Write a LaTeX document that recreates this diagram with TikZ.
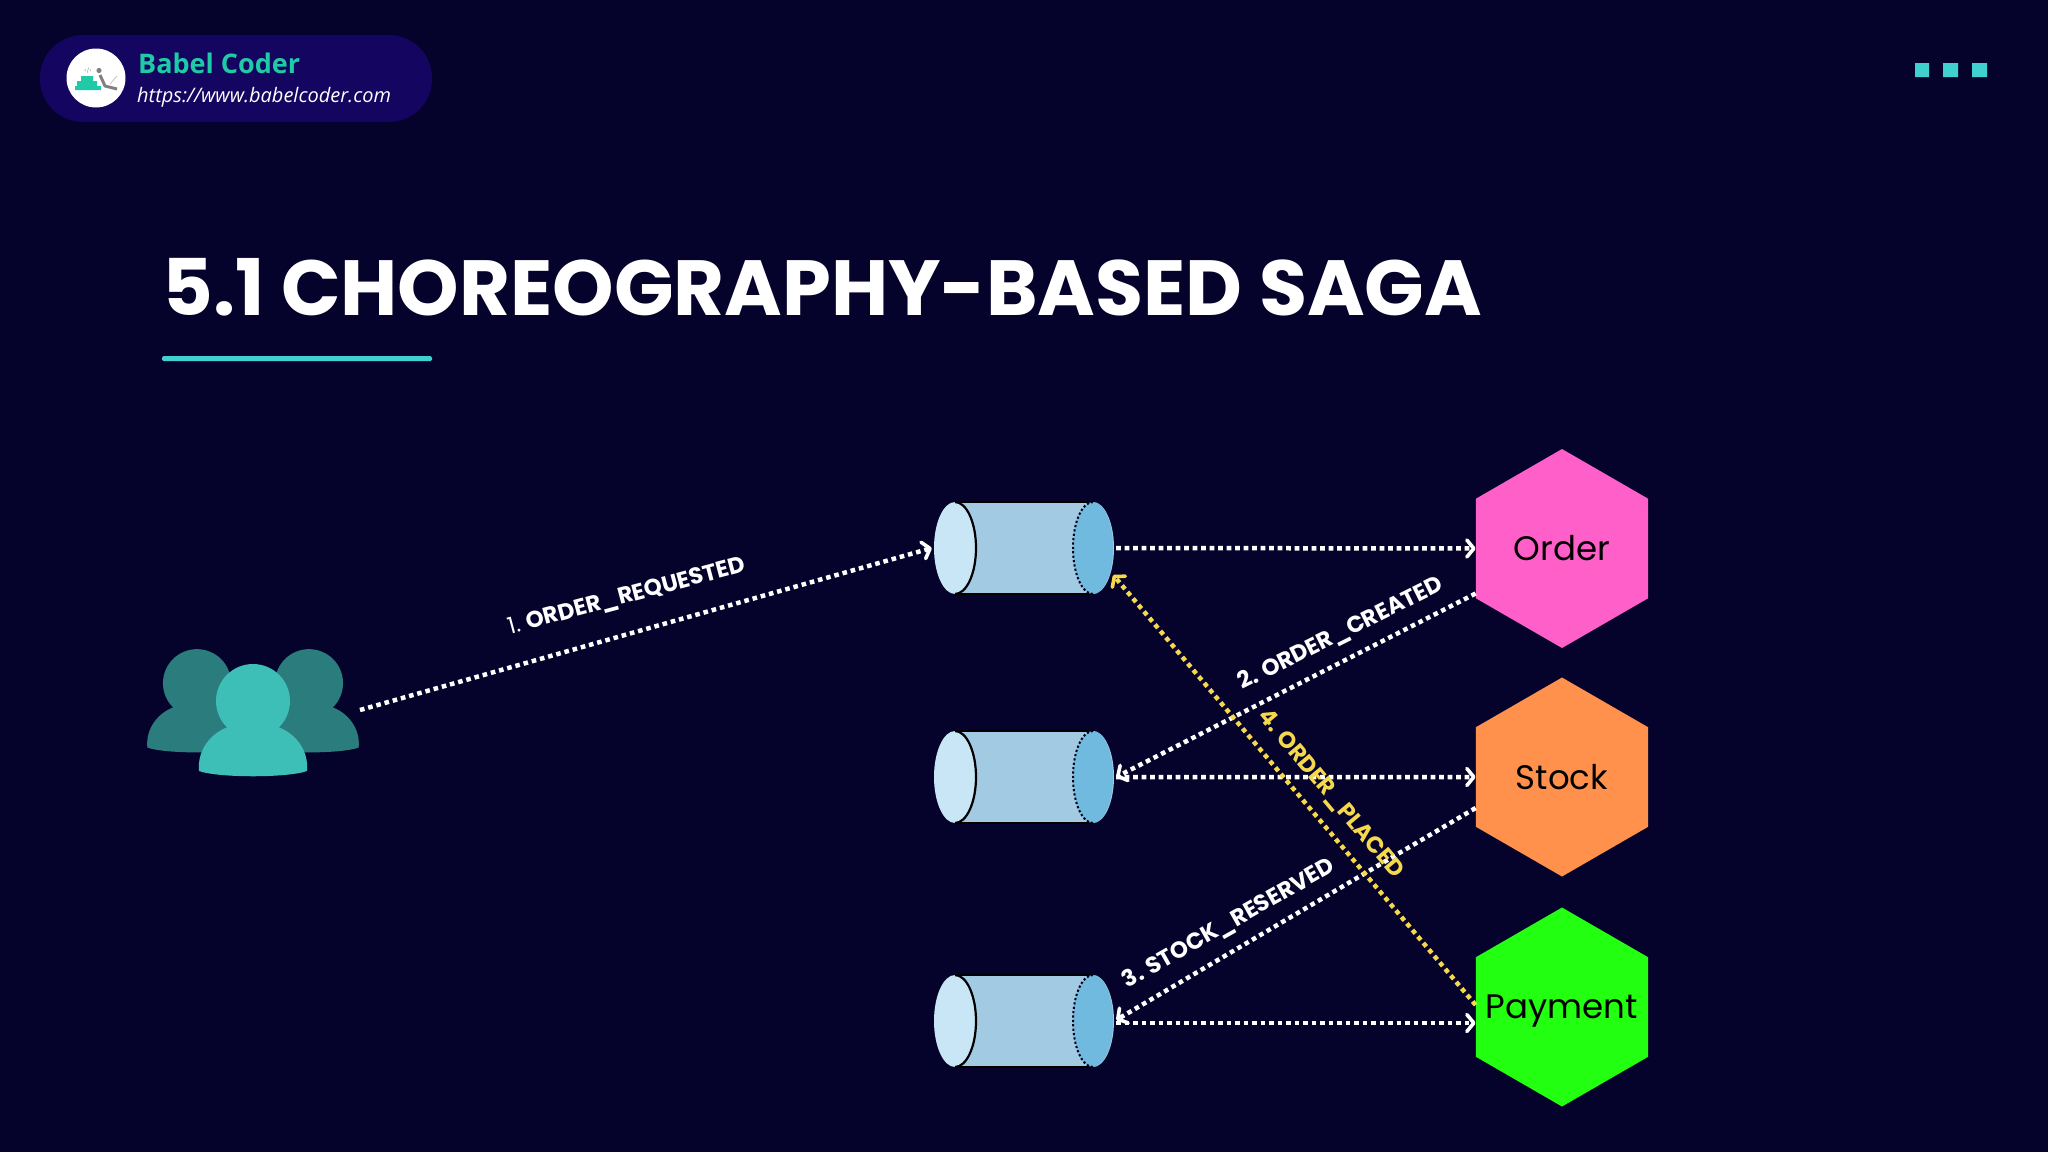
\documentclass[tikz,border=0pt]{standalone}
\usepackage{fontspec}
\setmainfont{Poppins}
\newfontfamily\opensans{Open Sans}
\newfontfamily\popreg{Poppins}
\newfontfamily\popbold{Poppins}[UprightFont=* Bold]
\usetikzlibrary{arrows.meta,shapes.geometric,calc}
\definecolor{bgc}{HTML}{05032C}
\definecolor{pillc}{HTML}{130560}
\definecolor{logoteal}{HTML}{1FCBA6}
\definecolor{accent}{HTML}{3FD0CF}
\definecolor{front}{HTML}{3DBFB8}
\definecolor{back}{HTML}{2B7D7D}
\definecolor{bodyc}{HTML}{A2CBE3}
\definecolor{leftc}{HTML}{C8E6F5}
\definecolor{rightc}{HTML}{6FBADE}
\definecolor{yel}{HTML}{F6D84C}
\tikzset{
  flowline/.style={line width=4.5pt,dash pattern=on 4.6pt off 3.9pt,
    -{Straight Barb[length=7pt,width=17pt,line width=3.6pt,round]}},
  wflow/.style={flowline,draw=white},
  yflow/.style={flowline,draw=yel},
  hexa/.style={regular polygon,regular polygon sides=6,shape border rotate=90,minimum size=199pt,inner sep=0pt,text=black,font=\fontsize{34}{35}\selectfont},
  queue/.style={minimum width=184pt,minimum height=92pt,inner sep=0pt},
  lbl/.style={font=\fontsize{23}{23}\selectfont\popbold,text=white,inner sep=0pt},
  person/.pic={
    \fill[pic actions] (0,-52) circle[radius=37];
    \fill[pic actions] (-54,18) .. controls (-56,-3) and (-42,-20) .. (-25,-26)
      -- (25,-26) .. controls (42,-20) and (56,-3) .. (54,18)
      .. controls (35,25) and (-35,25) .. (-54,18) -- cycle;
  },
  cyl/.pic={
    \fill[bodyc] (-69,-46) -- (69,-46) arc[start angle=-90,end angle=90,x radius=21,y radius=46] -- (-69,46) -- cycle;
    \draw[black,line width=2pt] (-69,-46) -- (69,-46) (-69,46) -- (69,46);
    \fill[rightc] (69,0) circle[x radius=20,y radius=46];
    \draw[bgc!60!black,line width=2pt,dash pattern=on 2.2pt off 2.2pt] (69,46) arc[start angle=90,end angle=270,x radius=20,y radius=46];
    \fill[leftc] (-69,0) circle[x radius=21,y radius=46];
    \draw[black,line width=2.2pt] (-69,-46) arc[start angle=-90,end angle=90,x radius=21,y radius=46];
  }
}
\begin{document}
\begin{tikzpicture}[x=1pt,y=-1pt]
\useasboundingbox[fill=bgc] (0,0) rectangle (2048,1152);
% badge
\fill[pillc,rounded corners=43pt] (40,35) rectangle (432,122);
\fill[white] (96,78) circle[radius=29.5];
\fill[logoteal] (75,86) rectangle (101,90) (77,81) rectangle (97,86) (81,76) rectangle (93,81);
\node[text=gray,font=\fontsize{5}{5}\selectfont,inner sep=0pt] (logotag) at (88,70.5) {</>};
\fill[gray] (99,70.5) circle[radius=2.6];
\draw[gray,line width=3pt,line join=round] (100,75) -- (105,86) -- (117,89);
\draw[gray!50,line width=0.7pt] (110,84) -- (117,76);
\node[anchor=base west,inner sep=0pt,text=logoteal,font=\opensans\bfseries\fontsize{27}{28}\selectfont] (brand) at (138,73) {Babel Coder};
\node[anchor=base west,inner sep=0pt,text=white,font=\opensans\itshape\fontsize{20}{22}\selectfont] (url) at (137,102) {https://www.babelcoder.com};
% top right squares
\fill[accent] (1915,63) rectangle (1929,77) (1943,63) rectangle (1958,77) (1972,63) rectangle (1987,77);
% title
\node[anchor=base west,inner sep=0pt,text=white,font=\popbold\fontsize{78.2}{84}\selectfont] (title) at (162,315) {5.1 CHOREOGRAPHY-BASED SAGA};
\fill[accent,rounded corners=1.5pt] (162,356) rectangle (432,361);
% people
\pic[fill=back,scale=.92] at (197,731) {person};
\pic[fill=back,scale=.92] at (309,731) {person};
\pic[fill=front] at (253,753) {person};
\coordinate (people) at (360,710);
% queues
\node[queue] (q1) at (1024,548) {};
\node[queue] (q2) at (1024,777) {};
\node[queue] (q3) at (1024,1021) {};
\pic at (q1) {cyl};
\pic at (q2) {cyl};
\pic at (q3) {cyl};
% services
\node[hexa,fill={rgb,255:red,255;green,95;blue,200}] (order) at (1562,548.5) {\makebox[0pt]{Order}};
\node[hexa,fill={rgb,255:red,255;green,145;blue,77}] (stock) at (1562,777) {\makebox[0pt]{Stock}};
\node[hexa,fill={rgb,255:red,34;green,255;blue,16}] (pay) at (1562,1007) {\makebox[0pt]{\raisebox{-11pt}[0pt][0pt]{Payment}}};
% connectors
\draw[wflow] (people) -- (q1.west);
\draw[wflow] (q1.east) -- (order.west);
\draw[wflow] ($(order.west)+(0,45)$) -- (q2.east);
\draw[wflow] (q2.east) -- (stock.west);
\draw[wflow] ($(stock.west)+(0,31)$) -- ($(q3.east)+(0,-1)$);
\draw[wflow] ($(q3.east)+(0,2)$) -- ($(pay.west)+(0,16)$);
\draw[yflow] ($(pay.west)+(0,-2)$) -- ($(q1.east)+(-3,27)$);
% labels
\node[lbl,rotate=15] (l1) at (627,597) {{\popreg 1.} ORDER\_REQUESTED};
\node[lbl,rotate=26.5] (l2) at (1341,634) {2. ORDER\_CREATED};
\node[lbl,rotate=29.5] (l3) at (1229,924) {3. STOCK\_RESERVED};
\node[lbl,rotate=-50,text=yel] (l4) at (1330,794) {4. ORDER\_PLACED};
\end{tikzpicture}
\end{document}
